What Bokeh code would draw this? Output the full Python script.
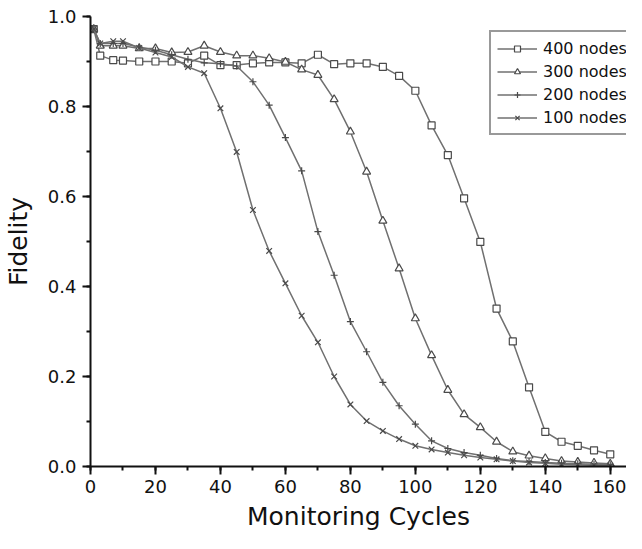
from bokeh.plotting import figure
from bokeh.models import Range1d, SingleIntervalTicker, Legend, LegendItem, PrintfTickFormatter
from bokeh.embed import file_html
from bokeh.resources import INLINE

cycles = [1, 3, 7, 10, 15, 20, 25, 30, 35, 40, 45, 50, 55, 60, 65, 70, 75, 80,
          85, 90, 95, 100, 105, 110, 115, 120, 125, 130, 135, 140, 145, 150, 155, 160]
nodes400 = [0.972, 0.913, 0.903, 0.902, 0.900, 0.900, 0.900, 0.896, 0.913, 0.892, 0.892, 0.896,
            0.898, 0.898, 0.896, 0.915, 0.894, 0.896, 0.896, 0.888, 0.868, 0.835, 0.758, 0.692,
            0.596, 0.499, 0.351, 0.278, 0.176, 0.077, 0.055, 0.046, 0.036, 0.027]
nodes300 = [0.972, 0.935, 0.935, 0.935, 0.929, 0.929, 0.920, 0.921, 0.935, 0.921, 0.913, 0.913,
            0.907, 0.899, 0.882, 0.870, 0.816, 0.744, 0.655, 0.546, 0.440, 0.329, 0.247, 0.170,
            0.116, 0.087, 0.055, 0.033, 0.024, 0.018, 0.012, 0.010, 0.008, 0.006]
nodes200 = [0.972, 0.940, 0.940, 0.940, 0.932, 0.925, 0.915, 0.905, 0.897, 0.895, 0.890, 0.855,
            0.803, 0.731, 0.657, 0.522, 0.425, 0.322, 0.255, 0.187, 0.135, 0.094, 0.057, 0.040,
            0.031, 0.025, 0.018, 0.013, 0.011, 0.009, 0.007, 0.006, 0.005, 0.004]
nodes100 = [0.972, 0.940, 0.945, 0.945, 0.930, 0.920, 0.910, 0.888, 0.874, 0.796, 0.699, 0.570,
            0.479, 0.407, 0.335, 0.276, 0.200, 0.138, 0.101, 0.079, 0.061, 0.046, 0.038, 0.031,
            0.025, 0.020, 0.016, 0.012, 0.009, 0.007, 0.005, 0.004, 0.003, 0.002]

series_names = ["400 nodes", "300 nodes", "200 nodes", "100 nodes"]
series_values = [nodes400, nodes300, nodes200, nodes100]
markers = ["square", "triangle", "cross", "x"]
marker_sizes = [7, 8, 7, 8]

FONT = "DejaVu Sans"

p = figure(width=626, height=533, output_backend="svg", toolbar_location=None,
           x_range=Range1d(0, 165), y_range=Range1d(0, 1.0),
           min_border_left=84, min_border_right=0, min_border_top=16, min_border_bottom=67)
p.outline_line_color = None
p.xgrid.visible = False
p.ygrid.visible = False
p.background_fill_color = "white"

p.xaxis.ticker = SingleIntervalTicker(interval=20, num_minor_ticks=2)
p.yaxis.ticker = SingleIntervalTicker(interval=0.2, num_minor_ticks=2)
p.yaxis.formatter = PrintfTickFormatter(format="%.1f")
for ax in (p.xaxis, p.yaxis):
    ax.axis_line_width = 2
    ax.axis_line_color = "#111111"
    ax.major_tick_line_width = 2
    ax.minor_tick_line_width = 2
    ax.major_tick_line_color = "#111111"
    ax.minor_tick_line_color = "#111111"
    ax.major_tick_in = 0
    ax.major_tick_out = 8
    ax.minor_tick_in = 0
    ax.minor_tick_out = 4
    ax.major_label_text_font = FONT
    ax.major_label_text_font_size = "18px"
    ax.major_label_text_color = "#111111"
    ax.axis_label_text_font = FONT
    ax.axis_label_text_font_size = "25px"
    ax.axis_label_text_font_style = "normal"
    ax.axis_label_text_color = "#111111"

p.xaxis.axis_label = "Monitoring Cycles"
p.yaxis.axis_label = "Fidelity"
p.xaxis.major_label_standoff = 5
p.yaxis.major_label_standoff = 6
p.xaxis.axis_label_standoff = 6
p.yaxis.axis_label_standoff = 12

items = []
for name, vals, mk, sz in zip(series_names, series_values, markers, marker_sizes):
    ln = p.line(cycles, vals, line_color="#707070", line_width=1.5)
    sc = p.scatter(cycles, vals, marker=mk, size=sz, line_color="#4a4a4a",
                   line_width=1.2, fill_color="white")
    items.append(LegendItem(label=name, renderers=[ln, sc]))

legend = Legend(items=items, location=(399, 331))
legend.label_text_font = FONT
legend.label_text_font_size = "16px"
legend.label_text_color = "#111111"
legend.glyph_width = 40
legend.glyph_height = 15
legend.label_height = 20
legend.label_standoff = 6
legend.spacing = 3
legend.padding = 6
legend.margin = 0
legend.border_line_color = "#333333"
legend.border_line_width = 2
legend.background_fill_color = "white"
legend.background_fill_alpha = 1.0
p.add_layout(legend, "center")

open("out.html", "w").write(file_html(p, INLINE))
